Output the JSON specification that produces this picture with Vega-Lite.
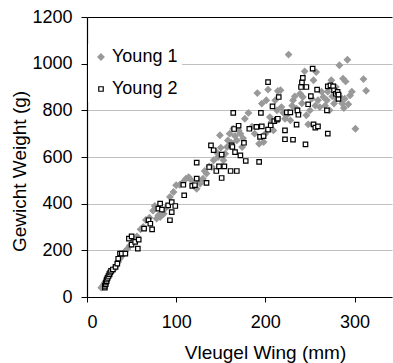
{
  "$schema": "https://vega.github.io/schema/vega-lite/v6.json",
  "width": 305,
  "height": 280,
  "autosize": {"type": "none"},
  "padding": {"left": 87, "top": 17, "right": 1, "bottom": 66},
  "background": "white",
  "config": {
    "view": {"stroke": null},
    "font": "Liberation Sans",
    "axis": {"labelFont": "Liberation Sans", "titleFont": "Liberation Sans", "labelColor": "black", "titleColor": "black", "labelFontSize": 18, "titleFontSize": 19, "titleFontWeight": "normal", "domainColor": "black", "tickColor": "black", "domainWidth": 1.2, "tickWidth": 1},
    "legend": {"labelFontSize": 18, "labelFont": "Liberation Sans", "labelColor": "black"}
  },
  "data": {
    "values": [
      {"s": "Young 1", "x": 16, "y": 40}, {"s": "Young 1", "x": 18, "y": 48}, {"s": "Young 1", "x": 19, "y": 55}, {"s": "Young 1", "x": 20, "y": 62}, {"s": "Young 1", "x": 22, "y": 70}, {"s": "Young 1", "x": 23, "y": 78}, {"s": "Young 1", "x": 25, "y": 88}, {"s": "Young 1", "x": 26, "y": 100}, {"s": "Young 1", "x": 28, "y": 108}, {"s": "Young 1", "x": 30, "y": 118}, {"s": "Young 1", "x": 32, "y": 130}, {"s": "Young 1", "x": 35, "y": 150}, {"s": "Young 1", "x": 37, "y": 165}, {"s": "Young 1", "x": 40, "y": 180}, {"s": "Young 1", "x": 42, "y": 192}, {"s": "Young 1", "x": 45, "y": 205}, {"s": "Young 1", "x": 48, "y": 220}, {"s": "Young 1", "x": 52, "y": 240}, {"s": "Young 1", "x": 56, "y": 260}, {"s": "Young 1", "x": 60, "y": 290}, {"s": "Young 1", "x": 63, "y": 300}, {"s": "Young 1", "x": 66, "y": 330}, {"s": "Young 1", "x": 70, "y": 340}, {"s": "Young 1", "x": 74, "y": 370}, {"s": "Young 1", "x": 76, "y": 390}, {"s": "Young 1", "x": 78, "y": 336}, {"s": "Young 1", "x": 80, "y": 350}, {"s": "Young 1", "x": 82, "y": 343}, {"s": "Young 1", "x": 86, "y": 357}, {"s": "Young 1", "x": 88, "y": 380}, {"s": "Young 1", "x": 93, "y": 429}, {"s": "Young 1", "x": 97, "y": 450}, {"s": "Young 1", "x": 100, "y": 479}, {"s": "Young 1", "x": 104, "y": 481}, {"s": "Young 1", "x": 107, "y": 490}, {"s": "Young 1", "x": 111, "y": 507}, {"s": "Young 1", "x": 114, "y": 514}, {"s": "Young 1", "x": 117, "y": 500}, {"s": "Young 1", "x": 119, "y": 479}, {"s": "Young 1", "x": 123, "y": 464}, {"s": "Young 1", "x": 125, "y": 500}, {"s": "Young 1", "x": 127, "y": 486}, {"s": "Young 1", "x": 130, "y": 507}, {"s": "Young 1", "x": 132, "y": 540}, {"s": "Young 1", "x": 134, "y": 529}, {"s": "Young 1", "x": 137, "y": 560}, {"s": "Young 1", "x": 140, "y": 557}, {"s": "Young 1", "x": 142, "y": 586}, {"s": "Young 1", "x": 145, "y": 621}, {"s": "Young 1", "x": 147, "y": 600}, {"s": "Young 1", "x": 149, "y": 693}, {"s": "Young 1", "x": 150, "y": 640}, {"s": "Young 1", "x": 153, "y": 586}, {"s": "Young 1", "x": 155, "y": 614}, {"s": "Young 1", "x": 157, "y": 643}, {"s": "Young 1", "x": 158, "y": 671}, {"s": "Young 1", "x": 160, "y": 700}, {"s": "Young 1", "x": 162, "y": 660}, {"s": "Young 1", "x": 164, "y": 721}, {"s": "Young 1", "x": 166, "y": 690}, {"s": "Young 1", "x": 168, "y": 671}, {"s": "Young 1", "x": 170, "y": 714}, {"s": "Young 1", "x": 172, "y": 700}, {"s": "Young 1", "x": 174, "y": 643}, {"s": "Young 1", "x": 175, "y": 680}, {"s": "Young 1", "x": 177, "y": 764}, {"s": "Young 1", "x": 181, "y": 789}, {"s": "Young 1", "x": 185, "y": 730}, {"s": "Young 1", "x": 188, "y": 700}, {"s": "Young 1", "x": 191, "y": 874}, {"s": "Young 1", "x": 193, "y": 657}, {"s": "Young 1", "x": 196, "y": 829}, {"s": "Young 1", "x": 198, "y": 664}, {"s": "Young 1", "x": 200, "y": 700}, {"s": "Young 1", "x": 201, "y": 843}, {"s": "Young 1", "x": 203, "y": 889}, {"s": "Young 1", "x": 205, "y": 771}, {"s": "Young 1", "x": 207, "y": 750}, {"s": "Young 1", "x": 209, "y": 714}, {"s": "Young 1", "x": 211, "y": 843}, {"s": "Young 1", "x": 213, "y": 800}, {"s": "Young 1", "x": 214, "y": 883}, {"s": "Young 1", "x": 217, "y": 886}, {"s": "Young 1", "x": 218, "y": 814}, {"s": "Young 1", "x": 220, "y": 790}, {"s": "Young 1", "x": 222, "y": 764}, {"s": "Young 1", "x": 224, "y": 779}, {"s": "Young 1", "x": 226, "y": 1039}, {"s": "Young 1", "x": 228, "y": 757}, {"s": "Young 1", "x": 230, "y": 820}, {"s": "Young 1", "x": 231, "y": 843}, {"s": "Young 1", "x": 233, "y": 860}, {"s": "Young 1", "x": 235, "y": 807}, {"s": "Young 1", "x": 237, "y": 790}, {"s": "Young 1", "x": 239, "y": 871}, {"s": "Young 1", "x": 241, "y": 830}, {"s": "Young 1", "x": 242, "y": 857}, {"s": "Young 1", "x": 244, "y": 967}, {"s": "Young 1", "x": 246, "y": 779}, {"s": "Young 1", "x": 248, "y": 740}, {"s": "Young 1", "x": 250, "y": 800}, {"s": "Young 1", "x": 252, "y": 850}, {"s": "Young 1", "x": 254, "y": 929}, {"s": "Young 1", "x": 256, "y": 820}, {"s": "Young 1", "x": 257, "y": 964}, {"s": "Young 1", "x": 259, "y": 843}, {"s": "Young 1", "x": 261, "y": 814}, {"s": "Young 1", "x": 263, "y": 880}, {"s": "Young 1", "x": 265, "y": 857}, {"s": "Young 1", "x": 267, "y": 820}, {"s": "Young 1", "x": 269, "y": 843}, {"s": "Young 1", "x": 270, "y": 880}, {"s": "Young 1", "x": 272, "y": 800}, {"s": "Young 1", "x": 274, "y": 929}, {"s": "Young 1", "x": 275, "y": 860}, {"s": "Young 1", "x": 277, "y": 829}, {"s": "Young 1", "x": 279, "y": 900}, {"s": "Young 1", "x": 280, "y": 850}, {"s": "Young 1", "x": 282, "y": 870}, {"s": "Young 1", "x": 283, "y": 993}, {"s": "Young 1", "x": 284, "y": 857}, {"s": "Young 1", "x": 286, "y": 830}, {"s": "Young 1", "x": 287, "y": 936}, {"s": "Young 1", "x": 288, "y": 810}, {"s": "Young 1", "x": 289, "y": 850}, {"s": "Young 1", "x": 290, "y": 924}, {"s": "Young 1", "x": 292, "y": 1017}, {"s": "Young 1", "x": 293, "y": 826}, {"s": "Young 1", "x": 295, "y": 864}, {"s": "Young 1", "x": 297, "y": 880}, {"s": "Young 1", "x": 301, "y": 721}, {"s": "Young 1", "x": 310, "y": 934}, {"s": "Young 1", "x": 313, "y": 884},
      {"s": "Young 2", "x": 20, "y": 40}, {"s": "Young 2", "x": 20, "y": 48}, {"s": "Young 2", "x": 21, "y": 55}, {"s": "Young 2", "x": 21, "y": 62}, {"s": "Young 2", "x": 22, "y": 68}, {"s": "Young 2", "x": 22, "y": 75}, {"s": "Young 2", "x": 23, "y": 82}, {"s": "Young 2", "x": 24, "y": 90}, {"s": "Young 2", "x": 25, "y": 98}, {"s": "Young 2", "x": 26, "y": 105}, {"s": "Young 2", "x": 27, "y": 112}, {"s": "Young 2", "x": 29, "y": 118}, {"s": "Young 2", "x": 32, "y": 129}, {"s": "Young 2", "x": 34, "y": 143}, {"s": "Young 2", "x": 35, "y": 164}, {"s": "Young 2", "x": 37, "y": 186}, {"s": "Young 2", "x": 39, "y": 186}, {"s": "Young 2", "x": 43, "y": 186}, {"s": "Young 2", "x": 47, "y": 250}, {"s": "Young 2", "x": 50, "y": 260}, {"s": "Young 2", "x": 50, "y": 224}, {"s": "Young 2", "x": 54, "y": 236}, {"s": "Young 2", "x": 57, "y": 207}, {"s": "Young 2", "x": 58, "y": 246}, {"s": "Young 2", "x": 64, "y": 293}, {"s": "Young 2", "x": 69, "y": 329}, {"s": "Young 2", "x": 71, "y": 314}, {"s": "Young 2", "x": 73, "y": 290}, {"s": "Young 2", "x": 80, "y": 379}, {"s": "Young 2", "x": 82, "y": 400}, {"s": "Young 2", "x": 84, "y": 374}, {"s": "Young 2", "x": 91, "y": 393}, {"s": "Young 2", "x": 93, "y": 329}, {"s": "Young 2", "x": 95, "y": 364}, {"s": "Young 2", "x": 95, "y": 407}, {"s": "Young 2", "x": 99, "y": 390}, {"s": "Young 2", "x": 108, "y": 481}, {"s": "Young 2", "x": 109, "y": 436}, {"s": "Young 2", "x": 118, "y": 476}, {"s": "Young 2", "x": 121, "y": 479}, {"s": "Young 2", "x": 123, "y": 507}, {"s": "Young 2", "x": 123, "y": 576}, {"s": "Young 2", "x": 134, "y": 489}, {"s": "Young 2", "x": 137, "y": 557}, {"s": "Young 2", "x": 139, "y": 650}, {"s": "Young 2", "x": 142, "y": 629}, {"s": "Young 2", "x": 145, "y": 540}, {"s": "Young 2", "x": 148, "y": 560}, {"s": "Young 2", "x": 151, "y": 610}, {"s": "Young 2", "x": 151, "y": 510}, {"s": "Young 2", "x": 154, "y": 560}, {"s": "Young 2", "x": 161, "y": 540}, {"s": "Young 2", "x": 162, "y": 650}, {"s": "Young 2", "x": 163, "y": 643}, {"s": "Young 2", "x": 164, "y": 789}, {"s": "Young 2", "x": 165, "y": 720}, {"s": "Young 2", "x": 166, "y": 621}, {"s": "Young 2", "x": 168, "y": 540}, {"s": "Young 2", "x": 170, "y": 734}, {"s": "Young 2", "x": 172, "y": 607}, {"s": "Young 2", "x": 176, "y": 661}, {"s": "Young 2", "x": 178, "y": 583}, {"s": "Young 2", "x": 182, "y": 721}, {"s": "Young 2", "x": 190, "y": 729}, {"s": "Young 2", "x": 193, "y": 579}, {"s": "Young 2", "x": 194, "y": 686}, {"s": "Young 2", "x": 195, "y": 789}, {"s": "Young 2", "x": 196, "y": 731}, {"s": "Young 2", "x": 198, "y": 689}, {"s": "Young 2", "x": 203, "y": 921}, {"s": "Young 2", "x": 203, "y": 717}, {"s": "Young 2", "x": 206, "y": 736}, {"s": "Young 2", "x": 208, "y": 817}, {"s": "Young 2", "x": 210, "y": 754}, {"s": "Young 2", "x": 213, "y": 760}, {"s": "Young 2", "x": 214, "y": 764}, {"s": "Young 2", "x": 215, "y": 857}, {"s": "Young 2", "x": 222, "y": 714}, {"s": "Young 2", "x": 222, "y": 676}, {"s": "Young 2", "x": 224, "y": 791}, {"s": "Young 2", "x": 228, "y": 791}, {"s": "Young 2", "x": 231, "y": 674}, {"s": "Young 2", "x": 235, "y": 739}, {"s": "Young 2", "x": 236, "y": 800}, {"s": "Young 2", "x": 237, "y": 781}, {"s": "Young 2", "x": 240, "y": 900}, {"s": "Young 2", "x": 241, "y": 920}, {"s": "Young 2", "x": 242, "y": 939}, {"s": "Young 2", "x": 245, "y": 654}, {"s": "Young 2", "x": 246, "y": 900}, {"s": "Young 2", "x": 248, "y": 826}, {"s": "Young 2", "x": 251, "y": 861}, {"s": "Young 2", "x": 253, "y": 979}, {"s": "Young 2", "x": 254, "y": 740}, {"s": "Young 2", "x": 256, "y": 726}, {"s": "Young 2", "x": 258, "y": 889}, {"s": "Young 2", "x": 259, "y": 731}, {"s": "Young 2", "x": 269, "y": 800}, {"s": "Young 2", "x": 270, "y": 700}, {"s": "Young 2", "x": 270, "y": 903}, {"s": "Young 2", "x": 273, "y": 907}, {"s": "Young 2", "x": 276, "y": 903}, {"s": "Young 2", "x": 277, "y": 886}, {"s": "Young 2", "x": 279, "y": 871}, {"s": "Young 2", "x": 281, "y": 879}, {"s": "Young 2", "x": 282, "y": 849}, {"s": "Young 2", "x": 282, "y": 867}
    ]
  },
  "mark": {"type": "point", "filled": false, "strokeWidth": 1.2, "opacity": 1},
  "encoding": {
    "x": {
      "field": "x", "type": "quantitative",
      "scale": {"domain": [0, 342], "nice": false, "zero": false},
      "axis": {"values": [0, 100, 200, 300], "format": "d", "grid": false, "tickSize": 5, "labelPadding": 11, "labelFontSize": 18, "title": "Vleugel Wing (mm)", "titleFontSize": 19, "titleX": 178, "titleY": 61, "titleAlign": "center", "titleAnchor": null, "titleBaseline": "alphabetic"}
    },
    "y": {
      "field": "y", "type": "quantitative",
      "scale": {"domain": [0, 1200], "nice": false},
      "axis": {"values": [0, 200, 400, 600, 800, 1000, 1200], "format": "d", "grid": true, "gridColor": {"condition": {"test": "datum.value === 1200", "value": "black"}, "value": "#c0c0c0"}, "gridWidth": {"condition": {"test": "datum.value === 1200", "value": 1.2}, "value": 1}, "tickSize": 6, "labelPadding": 9, "labelFontSize": 18, "title": "Gewicht Weight (g)", "titleFontSize": 19, "titleAngle": 270, "titleX": -62, "titleY": 154, "titleAlign": "center", "titleAnchor": null, "titleBaseline": "alphabetic"}
    },
    "shape": {"field": "s", "type": "nominal", "scale": {"domain": ["Young 1", "Young 2"], "range": ["diamond", "square"]},
      "legend": {"title": null, "orient": "none", "legendX": 1, "legendY": 27, "padding": 4, "fillColor": "white", "labelFontSize": 18, "labelFont": "Liberation Sans", "labelColor": "black", "symbolSize": 30, "labelOffset": 2, "rowPadding": 14, "symbolStrokeWidth": 1.2}
    },
    "fill": {"field": "s", "type": "nominal", "scale": {"domain": ["Young 1", "Young 2"], "range": ["#999999", "white"]}},
    "stroke": {"field": "s", "type": "nominal", "scale": {"domain": ["Young 1", "Young 2"], "range": ["#999999", "black"]}},
    "size": {"field": "s", "type": "nominal", "scale": {"domain": ["Young 1", "Young 2"], "range": [38, 20]}},
    "order": {"field": "s", "sort": "ascending"}
  }
}
